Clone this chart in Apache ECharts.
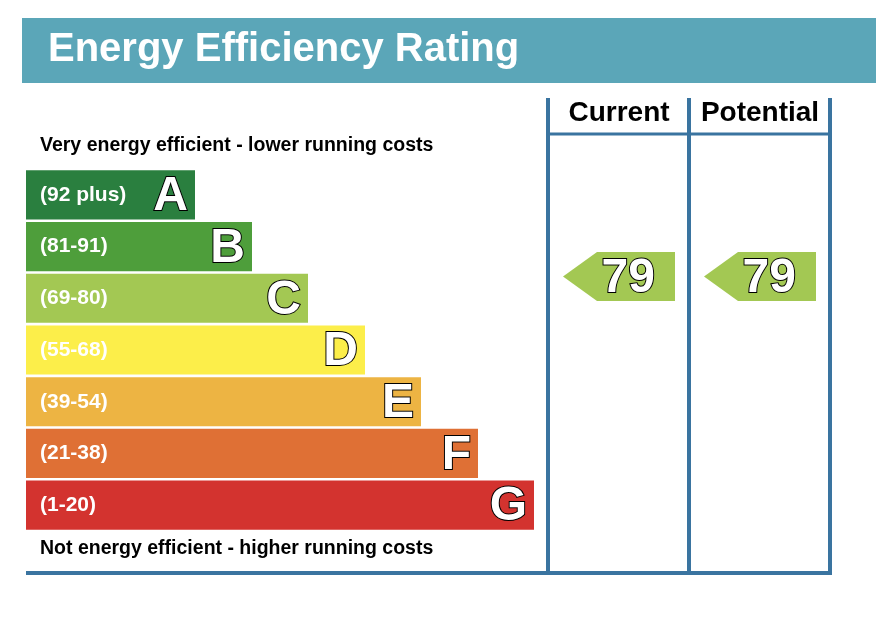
<!DOCTYPE html>
<html><head><meta charset="utf-8">
<script src="https://cdn.jsdelivr.net/npm/echarts@6/dist/echarts.min.js"></script>
<style>html,body{margin:0;padding:0;background:#fff}#c{width:876px;height:627px}</style>
</head><body><div id="c"></div>
<script>
const bands = ['A','B','C','D','E','F','G'];
const ranges = ['(92 plus)','(81-91)','(69-80)','(55-68)','(39-54)','(21-38)','(1-20)'];
const bandLengths = [169,226,282,339,395,452,508];
const bandColors = ['#2a7f3f','#4e9e3b','#a3c853','#fcee4a','#edb443','#df7035','#d3332f'];
const columns = ['Current','Potential'];
const ratings = [79,79];
const ratingColor = '#a3c853';
const frame = '#3a74a0';

const chart = echarts.init(document.getElementById('c'));
const F = 'Liberation Sans, Arial, sans-serif';
chart.setOption({
  animation:false,
  grid:[
    {left:26, top:169, width:508, height:362},
    {left:548, top:134, width:282, height:439}
  ],
  xAxis:[
    {gridIndex:0,type:'value',min:0,max:508,show:false},
    {gridIndex:1,type:'category',data:columns,show:false}
  ],
  yAxis:[
    {gridIndex:0,type:'category',data:bands,inverse:true,show:false},
    {gridIndex:1,type:'value',min:0,max:117,show:false}
  ],
  series:[
    {type:'bar',xAxisIndex:0,yAxisIndex:0,barCategoryGap:'5%',
     data:bandLengths.map((v,i)=>({value:v,itemStyle:{color:bandColors[i]}})),
     label:{show:true,position:'insideLeft',distance:14,fontFamily:F,fontWeight:'bold',fontSize:21,
       formatter:p=>ranges[p.dataIndex],color:'#fff'}},
    {type:'custom',xAxisIndex:0,yAxisIndex:0,z:10,clip:false,
     data:bandLengths.map((v,i)=>[v,bands[i]]),
     renderItem:(params,api)=>{
       const p=api.coord([api.value(0),params.dataIndex]);
       return {type:'group',children:[
         {type:'text',style:{text:bands[params.dataIndex],x:p[0]-7,y:p[1]+2,align:'right',verticalAlign:'middle',
           fontFamily:F,fontWeight:'bold',fontSize:48,fill:'#fff',stroke:'#000',lineWidth:2}}]};
     }},
    {type:'custom',xAxisIndex:1,yAxisIndex:1,z:10,
     data:ratings.map((r,i)=>[i,r]),
     renderItem:(params,api)=>{
       const p=api.coord([api.value(0),api.value(1)]);
       const w=api.size([1,0])[0];
       const x0=p[0]-w/2+15, x1=p[0]+w/2-14, h=24.5, tip=34;
       return {type:'group',children:[
         {type:'polygon',shape:{points:[[x0,p[1]],[x0+tip,p[1]-h],[x1,p[1]-h],[x1,p[1]+h],[x0+tip,p[1]+h]]},style:{fill:ratingColor}},
         {type:'text',style:{text:String(api.value(1)),x:x1-20,y:p[1]+2,align:'right',verticalAlign:'middle',
           fontFamily:F,fontWeight:'bold',fontSize:48,fill:'#fff',stroke:'#000',lineWidth:2}}
       ]};
     }}
  ],
  graphic:[
    {type:'rect',shape:{x:22,y:18,width:854,height:65},style:{fill:'#5ba6b8'}},
    {type:'text',style:{text:'Energy Efficiency Rating',x:48,y:50,verticalAlign:'middle',fontFamily:F,fontWeight:'bold',fontSize:40,fill:'#fff'}},
    {type:'text',style:{text:'Very energy efficient - lower running costs',x:40,y:146,verticalAlign:'middle',fontFamily:F,fontWeight:'bold',fontSize:19.5,fill:'#000'}},
    {type:'text',style:{text:'Not energy efficient - higher running costs',x:40,y:549,verticalAlign:'middle',fontFamily:F,fontWeight:'bold',fontSize:19.5,fill:'#000'}},
    {type:'text',style:{text:'Current',x:619,y:113,align:'center',verticalAlign:'middle',fontFamily:F,fontWeight:'bold',fontSize:28,fill:'#000'}},
    {type:'text',style:{text:'Potential',x:760,y:113,align:'center',verticalAlign:'middle',fontFamily:F,fontWeight:'bold',fontSize:28,fill:'#000'}},
    {type:'line',shape:{x1:548,y1:98,x2:548,y2:575},style:{stroke:frame,lineWidth:4}},
    {type:'line',shape:{x1:689,y1:98,x2:689,y2:575},style:{stroke:frame,lineWidth:4}},
    {type:'line',shape:{x1:830,y1:98,x2:830,y2:575},style:{stroke:frame,lineWidth:4}},
    {type:'line',shape:{x1:548,y1:134,x2:830,y2:134},style:{stroke:frame,lineWidth:3}},
    {type:'line',shape:{x1:26,y1:573,x2:832,y2:573},style:{stroke:frame,lineWidth:4}}
  ]
});
</script></body></html>
